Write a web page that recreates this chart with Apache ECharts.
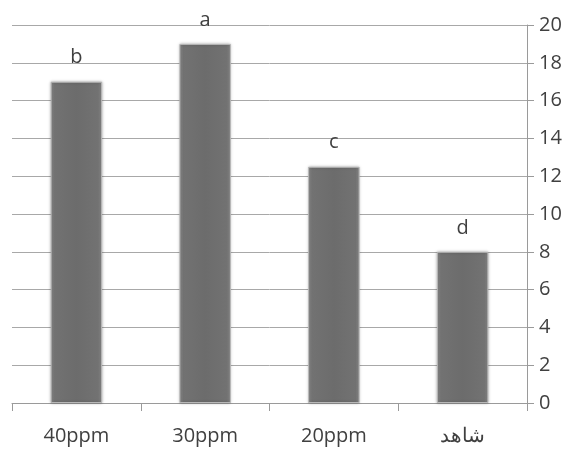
<!DOCTYPE html>
<html><head><meta charset="utf-8">
<script src="https://cdn.jsdelivr.net/npm/echarts@6/dist/echarts.min.js"></script>
<style>html,body{margin:0;padding:0;background:#fff}#c{width:582px;height:450px}</style>
</head><body><div id="c"></div>
<script>
var categories = ['40ppm', '30ppm', '20ppm', 'شاهد'];
var values = [17, 19, 12.5, 8];
var letters = ['b', 'a', 'c', 'd'];
var yTicks = { min: 0, max: 20, interval: 2 };

var chart = echarts.init(document.getElementById('c'));
var font = '"Open Sans", "Noto Sans", sans-serif';
chart.setOption({
  animation: false,
  grid: { left: 12, right: 55, top: 25, bottom: 47 },
  xAxis: {
    type: 'category', data: categories,
    axisLine: { lineStyle: { color: '#9a9a9a', width: 1 } },
    axisTick: { show: true, length: 8, lineStyle: { color: '#9a9a9a' } },
    axisLabel: { fontSize: 20, color: '#404040', fontFamily: font, margin: 23 }
  },
  yAxis: {
    type: 'value', position: 'right', min: yTicks.min, max: yTicks.max, interval: yTicks.interval,
    axisLine: { show: true, lineStyle: { color: '#9a9a9a' } },
    axisTick: { show: true, length: 7, lineStyle: { color: '#9a9a9a' } },
    splitLine: { lineStyle: { color: '#a8a8a8', width: 1 } },
    axisLabel: { fontSize: 20, color: '#404040', fontFamily: font, margin: 12 }
  },
  series: [{
    type: 'bar', data: values, barWidth: '40%',
    itemStyle: {
      color: new echarts.graphic.LinearGradient(0, 0, 1, 0, [
        { offset: 0, color: '#8a8a8a' },
        { offset: 0.08, color: '#727272' },
        { offset: 0.5, color: '#6c6c6c' },
        { offset: 0.92, color: '#727272' },
        { offset: 1, color: '#8a8a8a' }
      ]),
      borderColor: '#b8b8b8', borderWidth: 1,
      shadowColor: 'rgba(0,0,0,0.25)', shadowBlur: 3
    },
    label: {
      show: true, position: 'top', distance: 14,
      fontSize: 20, color: '#404040', fontFamily: font,
      formatter: function (p) { return letters[p.dataIndex]; }
    }
  }]
});
</script></body></html>
